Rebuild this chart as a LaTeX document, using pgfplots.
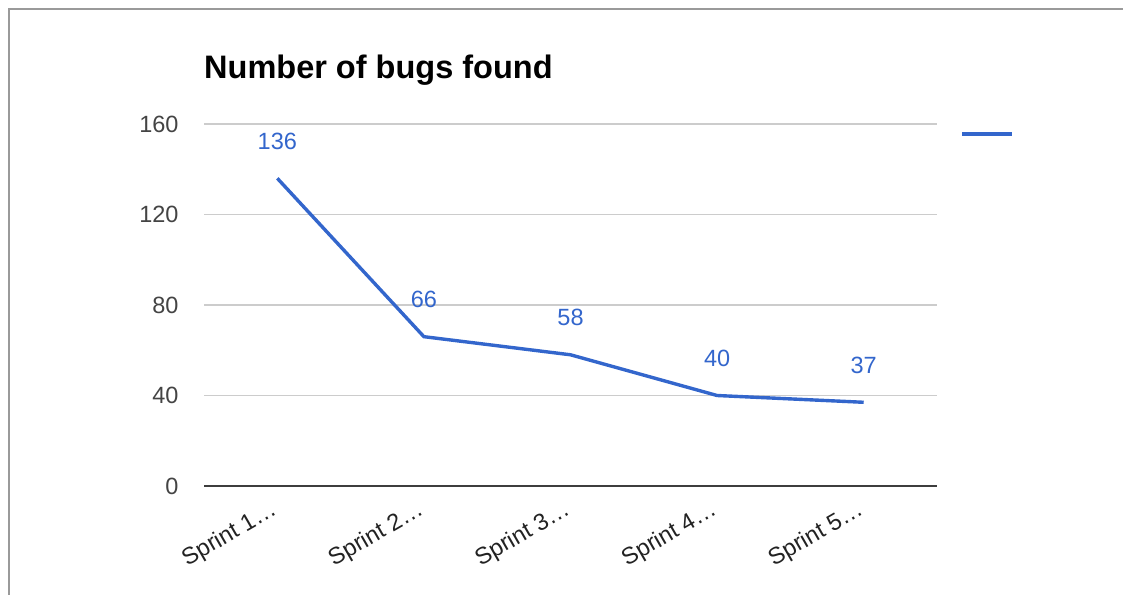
\documentclass[border=0pt]{standalone}
\usepackage{pgfplots}
\pgfplotsset{compat=1.18}
\usepackage{fontspec}
\setmainfont{Liberation Sans}
\definecolor{gblue}{HTML}{3366CC}
\definecolor{framegray}{HTML}{9A9A9A}
\definecolor{gridgray}{HTML}{CCCCCC}
\definecolor{ticktext}{HTML}{444444}
\definecolor{cattext}{HTML}{222222}

\begin{document}
\begin{tikzpicture}[x=1pt,y=1pt]
\useasboundingbox (0,0) rectangle (1123,-594);
% outer frame (right and bottom edges are cut off)
\draw[framegray, line width=2pt] (9,-700) -- (9,-9) -- (1200,-9);
\node[anchor=base west, inner sep=0pt, font=\bfseries\fontsize{32.5}{38}\selectfont]
  at (204,-78) {Number of bugs found};
% legend key without text
\draw[gblue, line width=4pt] (962,-134) -- (1012,-134);

\begin{axis}[
  at={(204pt,-486pt)}, anchor=south west,
  scale only axis,
  width=733pt, height=362pt,
  xmin=-0.5, xmax=4.5,
  ymin=0, ymax=160,
  axis x line*=bottom, axis y line*=left,
  y axis line style={draw=none},
  x axis line style={color=ticktext!90!black, line width=2pt},
  major tick length=0pt,
  ytick={0,40,80,120,160},
  xtick={0,1,2,3,4},
  xticklabels={Sprint 1…,Sprint 2…,Sprint 3…,Sprint 4…,Sprint 5…},
  ymajorgrids,
  grid style={gridgray, line width=1.2pt},
  /pgf/number format/assume math mode=true,
  yticklabel style={font=\fontsize{23.5}{28}\selectfont, color=ticktext, xshift=-22pt},
  xticklabel style={font=\fontsize{23.5}{28}\selectfont, color=cattext, rotate=30, anchor=north east, xshift=-10pt, yshift=-4pt},
  clip=false,
]
\addplot[
  color=gblue, line width=3.4pt,
  nodes near coords,
  every node near coord/.append style={font=\fontsize{23.5}{28}\selectfont, color=gblue, anchor=south, yshift=24pt},
] coordinates {
  (0,136)(1,66)(2,58)(3,40)(4,37)
};
\end{axis}
\end{tikzpicture}
\end{document}
